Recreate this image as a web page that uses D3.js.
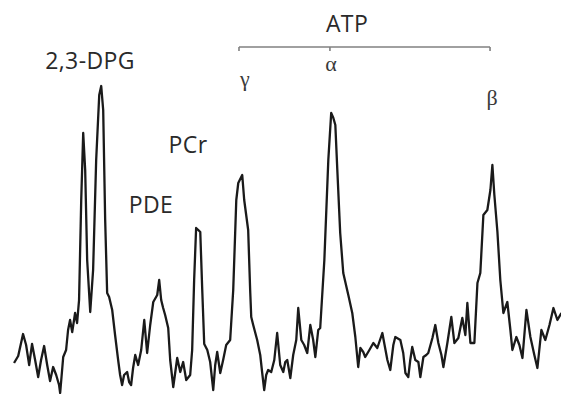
<!DOCTYPE html>
<html>
<head>
<meta charset="utf-8">
<script src="https://cdn.jsdelivr.net/npm/d3@7"></script>
<style>
  body { margin: 0; background: #fff; }
  svg { display: block; }
  .label { font-family: "Open Sans", sans-serif; font-size: 23px; letter-spacing: 0.4px; fill: #2a2a2a; }
  .greek { font-family: "Liberation Serif", serif; font-size: 22px; fill: #3a3a3a; }
</style>
</head>
<body>
<div id="chart"></div>
<script>
// chemical shift (ppm)
const shift = [10.17,9.94,9.67,9.50,9.33,9.17,9.00,8.83,8.67,8.50,8.33,8.17,8.00,7.83,7.67,7.61,7.44,7.28,7.17,7.06,
  6.94,6.78,6.67,6.56,6.44,6.33,6.22,6.11,5.94,5.78,5.61,5.44,5.33,5.22,5.11,5.00,4.89,4.72,4.56,4.39,
  4.28,4.17,4.06,3.89,3.78,3.67,3.56,3.44,3.28,3.11,2.94,2.78,2.61,2.44,2.22,2.11,2.00,1.89,1.78,1.61,
  1.50,1.33,1.11,0.94,0.78,0.61,0.39,0.28,0.17,0.06,-0.06,-0.17,-0.28,-0.39,-0.56,-0.72,-0.89,-1.00,-1.11,-1.28,
  -1.44,-1.61,-1.83,-2.00,-2.17,-2.28,-2.50,-2.61,-2.72,-2.83,-2.94,-3.00,-3.11,-3.33,-3.50,-3.61,-3.72,-3.83,-3.94,-4.11,
  -4.28,-4.44,-4.61,-4.78,-4.89,-5.00,-5.17,-5.33,-5.50,-5.61,-5.78,-5.94,-6.11,-6.28,-6.44,-6.56,-6.72,-6.83,-7.06,-7.28,
  -7.44,-7.56,-7.67,-7.78,-7.94,-8.11,-8.39,-8.61,-8.78,-8.94,-9.06,-9.22,-9.33,-9.56,-9.78,-10.00,-10.28,-10.56,-10.72,-10.89,
  -11.00,-11.28,-11.44,-11.56,-11.72,-11.83,-11.94,-12.11,-12.28,-12.39,-12.56,-12.72,-12.83,-13.06,-13.22,-13.39,-13.56,-13.67,-13.89,-14.00,
  -14.11,-14.28,-14.50,-14.72,-14.89,-15.00,-15.17,-15.39,-15.56,-15.72,-15.89,-16.11,-16.28,-16.39,-16.50,-16.67,-16.83,-17.00,-17.22,-17.39,
  -17.50,-17.72,-17.89,-18.06,-18.28,-18.50,-18.72,-18.89,-19.11,-19.33,-19.56,-19.78,-20.00,-20.22];

// signal intensity (a.u.)
const intensity = [31,38,60,49,29,50,34,17,34,48,29,13,27,19,9,1,37,44,64,74,
  62,81,71,94,194,261,224,134,82,124,234,299,308,284,174,101,97,84,59,34,
  19,9,19,22,12,9,26,39,29,44,74,41,69,92,99,114,94,86,79,66,
  34,7,36,22,32,14,19,44,114,166,164,162,104,50,44,32,4,29,42,21,
  34,49,54,104,194,211,219,194,179,164,104,77,69,54,39,21,4,19,24,22,
  34,61,29,22,32,34,16,39,54,86,54,49,41,69,54,37,64,66,134,234,
  281,276,269,224,161,121,99,81,57,27,46,42,37,44,51,46,61,34,24,49,
  57,54,41,21,17,34,47,34,32,17,37,39,41,56,69,51,39,27,51,64,
  77,51,56,76,59,91,51,51,111,121,179,184,204,229,199,162,114,81,92,64,
  44,57,49,36,84,57,39,26,64,54,69,86,74,81];

// peak labels
const peakNames = ["2,3-DPG", "PDE", "PCr"];
const peakLabelShift = [5.95, 2.57, 0.51];
const peakLabelY = [325, 181, 241];
const atpNames = ["γ", "α", "β"];
const atpShifts = [-2.65, -7.43, -16.37];
const atpLabelY = [308, 323, 289];
const bracketShifts = [-2.32, -7.37, -16.26];

const width = 561, height = 394;

const svg = d3.select("#chart").append("svg")
    .attr("width", width)
    .attr("height", height);

// x runs right-to-left like an NMR spectrum
let x = d3.scaleLinear()
    .domain([10.95, -20.2])
    .range([0, width]);

let y = d3.scaleLinear()
    .domain([0, 394])
    .range([height, 0]);

const points = shift.map((s, i) => [s, intensity[i]]);

let line = d3.line()
    .x(d => x(d[0]))
    .y(d => y(d[1]));

svg.append("path")
    .datum(points)
    .attr("fill", "none")
    .attr("stroke", "#1a1a1a")
    .attr("stroke-width", 2.3)
    .attr("stroke-linejoin", "round")
    .attr("d", line);

// metabolite labels
svg.selectAll("text.label")
    .data(peakNames)
    .enter().append("text")
    .attr("class", "label")
    .attr("text-anchor", "middle")
    .attr("x", (d, i) => x(peakLabelShift[i]))
    .attr("y", (d, i) => y(peakLabelY[i]))
    .text(d => d);

// ATP bracket
const bracketY = y(347);
svg.append("line")
    .attr("x1", x(bracketShifts[0])).attr("x2", x(bracketShifts[2]))
    .attr("y1", bracketY).attr("y2", bracketY)
    .attr("stroke", "#808080").attr("stroke-width", 1.6);

svg.selectAll("line.tick")
    .data(bracketShifts)
    .enter().append("line")
    .attr("class", "tick")
    .attr("x1", d => x(d)).attr("x2", d => x(d))
    .attr("y1", bracketY).attr("y2", bracketY + 4)
    .attr("stroke", "#808080").attr("stroke-width", 1.6);

svg.append("text")
    .attr("class", "label")
    .attr("text-anchor", "middle")
    .attr("x", x(-8.32))
    .attr("y", y(362))
    .text("ATP");

svg.selectAll("text.greek")
    .data(atpNames)
    .enter().append("text")
    .attr("class", "greek")
    .attr("text-anchor", "middle")
    .attr("x", (d, i) => x(atpShifts[i]))
    .attr("y", (d, i) => y(atpLabelY[i]))
    .text(d => d);
</script>
</body>
</html>
